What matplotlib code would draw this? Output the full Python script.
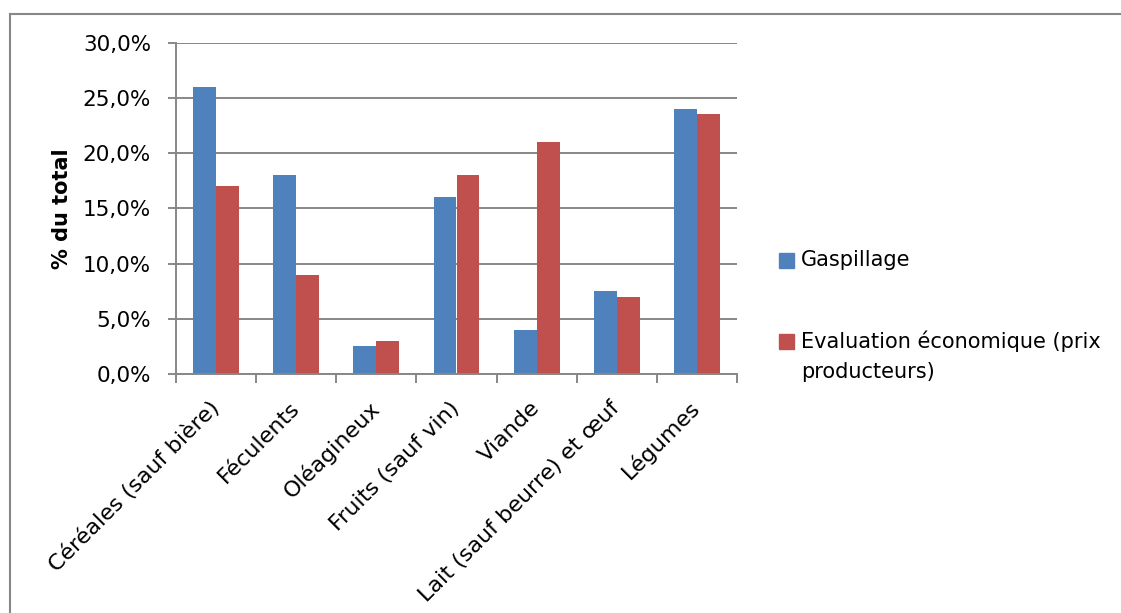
import matplotlib
matplotlib.use("Agg")
import matplotlib.pyplot as plt
import numpy as np
from matplotlib.lines import Line2D
from matplotlib.patches import Rectangle
from matplotlib.ticker import FuncFormatter

categories = ["Céréales (sauf bière)", "Féculents", "Oléagineux", "Fruits (sauf vin)",
              "Viande", "Lait (sauf beurre) et œuf", "Légumes"]
gaspillage = [26.0, 18.0, 2.5, 16.0, 4.0, 7.5, 24.0]
evaluation = [17.0, 9.0, 3.0, 18.0, 21.0, 7.0, 23.5]
series_names = ["Gaspillage", "Evaluation économique (prix\nproducteurs)"]
yticks = [0, 5, 10, 15, 20, 25, 30]

BLUE = "#4F81BD"
RED = "#C0504D"
GREY = "#878787"
W, H = 1121, 613

plt.rcParams["font.family"] = ["DejaVu Sans"]
plt.rcParams["font.size"] = 15

fig = plt.figure(figsize=(W / 100, H / 100), dpi=100)
ax = fig.add_axes([176 / W, 1 - 374 / H, (737 - 176) / W, (374 - 42.7) / H])

x = np.arange(len(categories))
bw = 1 / 3.5
ax.bar(x - bw / 2, gaspillage, bw, color=BLUE, zorder=3)
ax.bar(x + bw / 2, evaluation, bw, color=RED, zorder=3)

ax.set_xlim(-0.5, len(categories) - 0.5)
ax.set_ylim(0, 30)
ax.set_yticks(yticks)
ax.yaxis.set_major_formatter(FuncFormatter(lambda v, _: f"{v:.1f}%".replace(".", ",")))
ax.grid(axis="y", color=GREY, lw=1.4, zorder=0)

for s in ("top", "right"):
    ax.spines[s].set_visible(False)
for s in ("left", "bottom"):
    ax.spines[s].set_color(GREY)
    ax.spines[s].set_linewidth(1.4)
    ax.spines[s].set_zorder(4)

ax.tick_params(axis="y", length=6, width=1.4, color=GREY, pad=12, labelcolor="black",
               labelsize=15.5)
ax.set_xticks(x)
ax.set_xticklabels(categories, rotation=45, ha="right", va="center", rotation_mode="anchor",
                   fontsize=16)
ax.tick_params(axis="x", which="major", length=0, pad=22)
ax.set_xticks(np.arange(len(categories) + 1) - 0.5, minor=True)
ax.tick_params(axis="x", which="minor", length=6.5, width=1.4, color=GREY)

ax.set_ylabel("% du total", fontweight="bold", va="center")
ax.yaxis.set_label_coords(-0.203, 0.5)

# outer chart frame
fig.add_artist(Line2D([10 / W, 10 / W], [0, 1 - 13.5 / H], color=GREY, lw=1.5))
fig.add_artist(Line2D([10 / W, 1], [1 - 13.5 / H, 1 - 13.5 / H], color=GREY, lw=1.5))

# legend, square aligned with the first text line
for name, color, ytop in zip(series_names, [BLUE, RED], [252.7, 334]):
    fig.add_artist(Rectangle((779 / W, 1 - (ytop + 15) / H), 15 / W, 15 / H,
                             color=color, transform=fig.transFigure))
    fig.text(801 / W, 1 - (ytop + 7.5) / H, name.split("\n")[0], va="center", ha="left")
    for k, line in enumerate(name.split("\n")[1:], start=1):
        fig.text(801 / W, 1 - (ytop + 7.5 + 30 * k) / H, line, va="center", ha="left")

fig.savefig("out.png", dpi=100)
